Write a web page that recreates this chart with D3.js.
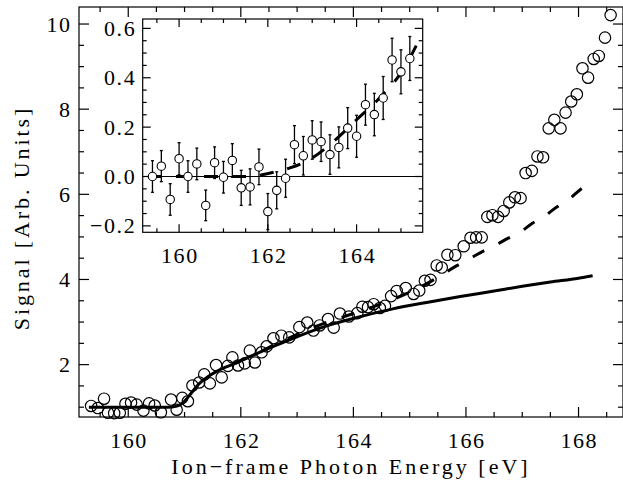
<!DOCTYPE html>
<html>
<head>
<meta charset="utf-8">
<script src="https://cdn.jsdelivr.net/npm/d3@7"></script>
<style>
  body { margin: 0; background: #fff; }
  text { font-family: "Liberation Serif", "Times New Roman", serif; fill: #000; }
</style>
</head>
<body>
<div id="chart"></div>
<script>
// main plot: measured signal vs ion-frame photon energy
const energy = [159.34, 159.46, 159.57, 159.64, 159.75, 159.85, 159.95, 160.05, 160.15, 160.27,
  160.37, 160.47, 160.58, 160.76, 160.86, 160.96, 161.06, 161.14, 161.26, 161.35,
  161.45, 161.56, 161.66, 161.77, 161.85, 161.95, 162.07, 162.16, 162.25, 162.37,
  162.46, 162.58, 162.72, 162.86, 163.04, 163.18, 163.29, 163.40, 163.55, 163.65,
  163.76, 163.92, 164.07, 164.16, 164.26, 164.36, 164.47, 164.56, 164.67, 164.77,
  164.93, 165.07, 165.17, 165.27, 165.37, 165.48, 165.57, 165.67, 165.81, 165.96,
  166.08, 166.18, 166.28, 166.38, 166.47, 166.57, 166.67, 166.77, 166.87, 166.97,
  167.06, 167.17, 167.27, 167.37, 167.47, 167.57, 167.68, 167.77, 167.87, 167.97,
  168.07, 168.17, 168.27, 168.36, 168.47, 168.57];
const signal = [1.03, 0.98, 1.20, 0.87, 0.86, 0.87, 1.08, 1.11, 1.06, 0.92,
  1.09, 1.04, 0.88, 1.18, 0.94, 1.22, 1.14, 1.51, 1.58, 1.77,
  1.56, 1.99, 1.70, 1.97, 2.17, 1.98, 2.03, 2.33, 2.05, 2.29,
  2.43, 2.62, 2.68, 2.64, 2.88, 2.99, 2.80, 2.92, 3.07, 2.87,
  3.20, 3.13, 3.21, 3.36, 3.35, 3.42, 3.33, 3.38, 3.61, 3.73,
  3.80, 3.66, 3.74, 3.97, 3.99, 4.33, 4.28, 4.58, 4.57, 4.78,
  4.98, 4.99, 4.99, 5.47, 5.51, 5.47, 5.61, 5.81, 5.93, 5.91,
  6.50, 6.55, 6.89, 6.87, 7.55, 7.75, 7.55, 7.92, 8.18, 8.35,
  8.96, 8.74, 9.18, 9.25, 9.68, 10.21];

// solid fit (single threshold)
const fitE = [159.3, 160.7, 160.85, 160.95, 161.1, 161.25, 161.42, 161.66, 161.9, 162.13,
  162.37, 162.6, 162.93, 163.5, 164.1, 164.7, 165.3, 165.9, 166.5, 167.0, 167.5, 168.0, 168.25];
const fitS = [1.0, 1.0, 1.02, 1.08, 1.3, 1.54, 1.72, 1.9, 2.03, 2.17,
  2.31, 2.44, 2.62, 2.9, 3.12, 3.31, 3.46, 3.6, 3.73, 3.84, 3.94, 4.03, 4.09];

// dashed fit (with second component)
const fit2E = [161.9, 162.13, 162.37, 162.6, 163.0, 163.5, 164.0, 164.5, 165.0, 165.5,
  165.83, 166.0, 166.3, 166.5, 166.75, 166.96, 167.18, 167.37, 167.6, 167.81, 168.04, 168.25];
const fit2S = [2.03, 2.17, 2.32, 2.47, 2.71, 2.98, 3.2, 3.43, 3.7, 4.05,
  4.32, 4.44, 4.66, 4.79, 4.97, 5.11, 5.32, 5.46, 5.69, 5.86, 6.12, 6.31];

// inset: residual after subtracting the solid fit
const insetE = [159.4, 159.6, 159.8, 160.0, 160.2, 160.4, 160.6, 160.8, 161.0, 161.2,
  161.4, 161.6, 161.8, 162.0, 162.2, 162.4, 162.6, 162.8, 163.0, 163.2,
  163.4, 163.6, 163.8, 164.0, 164.2, 164.4, 164.6, 164.8, 165.0, 165.2];
const insetR = [0.0, 0.042, -0.093, 0.072, 0.0, 0.051, -0.117, 0.056, -0.003, 0.065,
  -0.046, -0.042, 0.039, -0.142, -0.056, -0.007, 0.129, 0.084, 0.148, 0.141,
  0.089, 0.118, 0.196, 0.163, 0.291, 0.251, 0.318, 0.472, 0.424, 0.478];
const insetErr = [0.064, 0.063, 0.064, 0.065, 0.064, 0.064, 0.062, 0.064, 0.064, 0.068,
  0.071, 0.073, 0.072, 0.073, 0.075, 0.077, 0.077, 0.078, 0.078, 0.080,
  0.080, 0.083, 0.083, 0.085, 0.083, 0.086, 0.087, 0.088, 0.089, 0.089];
const insetFitE = [159.3, 161.6, 161.9, 162.2, 162.5, 163.0, 163.5, 164.0, 164.5, 165.0, 165.2, 165.45];
const insetFitR = [0.0, 0.0, 0.008, 0.02, 0.035, 0.075, 0.145, 0.23, 0.315, 0.42, 0.48, 0.57];

const mainXTicks = [160, 162, 164, 166, 168];
const mainYTicks = [2, 4, 6, 8, 10];
const insetXTicks = [160, 162, 164];
const insetYTicks = [-0.2, 0.0, 0.2, 0.4, 0.6];

const width = 623, height = 483;

const svg = d3.select("#chart").append("svg")
    .attr("width", width)
    .attr("height", height);

const x = d3.scaleLinear().domain([159.125, 168.79]).range([79, 623]);
const y = d3.scaleLinear().domain([0.77, 10.4]).range([417, 7]);

const ix = d3.scaleLinear().domain([159.18, 165.49]).range([142.7, 422.7]);
const iy = d3.scaleLinear().domain([-0.226, 0.638]).range([232.3, 19]);

const tickFont = 22, tickSpacing = 1.6;

// draws ticks on all four sides of a frame, labels on left and bottom
function frame(g, sx, sy, xMajor, xMinor, yMajor, yMinor, big, small, fmtX, fmtY, padX, padY) {
    const [x0, x1] = sx.range();
    const [y0, y1] = sy.range();
    g.append("rect")
        .attr("x", x0).attr("y", y1)
        .attr("width", x1 - x0).attr("height", y0 - y1)
        .attr("fill", "none").attr("stroke", "#000").attr("stroke-width", 1.2);

    const tk = g.append("g").attr("stroke", "#000").attr("stroke-width", 1.2);
    xMajor.concat(xMinor).forEach(v => {
        const len = xMajor.includes(v) ? big : small;
        tk.append("line").attr("x1", sx(v)).attr("x2", sx(v)).attr("y1", y0).attr("y2", y0 - len);
        tk.append("line").attr("x1", sx(v)).attr("x2", sx(v)).attr("y1", y1).attr("y2", y1 + len);
    });
    yMajor.concat(yMinor).forEach(v => {
        const len = yMajor.includes(v) ? big : small;
        tk.append("line").attr("y1", sy(v)).attr("y2", sy(v)).attr("x1", x0).attr("x2", x0 + len);
        tk.append("line").attr("y1", sy(v)).attr("y2", sy(v)).attr("x1", x1).attr("x2", x1 - len);
    });

    g.selectAll(null).data(xMajor).enter().append("text")
        .attr("x", d => sx(d) + tickSpacing / 2).attr("y", y0 + padX)
        .attr("text-anchor", "middle")
        .attr("font-size", tickFont)
        .attr("letter-spacing", tickSpacing)
        .text(fmtX);
    g.selectAll(null).data(yMajor).enter().append("text")
        .attr("x", x0 - padY + tickSpacing).attr("y", d => sy(d))
        .attr("dy", "0.34em")
        .attr("text-anchor", "end")
        .attr("font-size", tickFont)
        .attr("letter-spacing", tickSpacing)
        .text(fmtY);
}

// main frame
const mainG = svg.append("g");
const mainXMinor = d3.range(159.5, 168.8, 0.5).filter(v => !mainXTicks.includes(v));
const mainYMinor = d3.range(1, 10.01, 0.5).filter(v => !mainYTicks.includes(v));
frame(mainG, x, y, mainXTicks, mainXMinor, mainYTicks, mainYMinor, 10, 5,
    d => d3.format("d")(d), d => d3.format("d")(d), 31, 9);

// fits
const line = d3.line().x(d => x(d[0])).y(d => y(d[1])).curve(d3.curveMonotoneX);
mainG.append("path")
    .attr("d", line(d3.zip(fitE, fitS)))
    .attr("fill", "none").attr("stroke", "#000").attr("stroke-width", 3);
mainG.append("path")
    .attr("d", line(d3.zip(fit2E, fit2S)))
    .attr("fill", "none").attr("stroke", "#000").attr("stroke-width", 3)
    .attr("stroke-dasharray", "13,16");

// data circles
mainG.selectAll("circle")
    .data(d3.zip(energy, signal))
    .enter().append("circle")
    .attr("cx", d => x(d[0]))
    .attr("cy", d => y(d[1]))
    .attr("r", 5.7)
    .attr("fill", "none")
    .attr("stroke", "#000")
    .attr("stroke-width", 1.2);

// axis titles
svg.append("text")
    .attr("x", 351).attr("y", 474)
    .attr("text-anchor", "middle")
    .attr("font-size", 22)
    .attr("letter-spacing", 3)
    .text("Ion\u2212frame Photon Energy [eV]");
svg.append("text")
    .attr("transform", "translate(28.5,218) rotate(-90)")
    .attr("text-anchor", "middle")
    .attr("font-size", 22)
    .attr("letter-spacing", 2.9)
    .text("Signal [Arb. Units]");

// inset
const inG = svg.append("g");
inG.append("rect")
    .attr("x", 142.7).attr("y", 19).attr("width", 280).attr("height", 213.3)
    .attr("fill", "#fff");
const insetXMinor = d3.range(159.5, 165.49, 0.5).filter(v => !insetXTicks.includes(v));
const insetYMinor = d3.range(-0.2, 0.61, 0.05).map(v => Math.round(v * 100) / 100)
    .filter(v => !insetYTicks.includes(v));
frame(inG, ix, iy, insetXTicks, insetXMinor, insetYTicks, insetYMinor, 8, 4,
    d => d3.format("d")(d), d => d3.format(".1f")(d), 31, 8);

inG.append("line")
    .attr("x1", ix.range()[0]).attr("x2", ix.range()[1])
    .attr("y1", iy(0)).attr("y2", iy(0))
    .attr("stroke", "#000").attr("stroke-width", 1);

const iline = d3.line().x(d => ix(d[0])).y(d => iy(d[1])).curve(d3.curveMonotoneX);
inG.append("path")
    .attr("d", iline(d3.zip(insetFitE, insetFitR)))
    .attr("fill", "none").attr("stroke", "#000").attr("stroke-width", 3)
    .attr("stroke-dasharray", "14,14");

const pts = d3.zip(insetE, insetR, insetErr);
const eb = inG.append("g").attr("stroke", "#000").attr("stroke-width", 1.3);
pts.forEach(d => {
    eb.append("line").attr("x1", ix(d[0])).attr("x2", ix(d[0]))
        .attr("y1", iy(d[1] - d[2])).attr("y2", iy(d[1] + d[2]));
    [d[1] - d[2], d[1] + d[2]].forEach(v => {
        eb.append("line").attr("x1", ix(d[0]) - 1.5).attr("x2", ix(d[0]) + 1.5)
            .attr("y1", iy(v)).attr("y2", iy(v));
    });
});
inG.selectAll("circle")
    .data(pts)
    .enter().append("circle")
    .attr("cx", d => ix(d[0]))
    .attr("cy", d => iy(d[1]))
    .attr("r", 4.2)
    .attr("fill", "#fff")
    .attr("stroke", "#000")
    .attr("stroke-width", 1.1);
</script>
</body>
</html>
